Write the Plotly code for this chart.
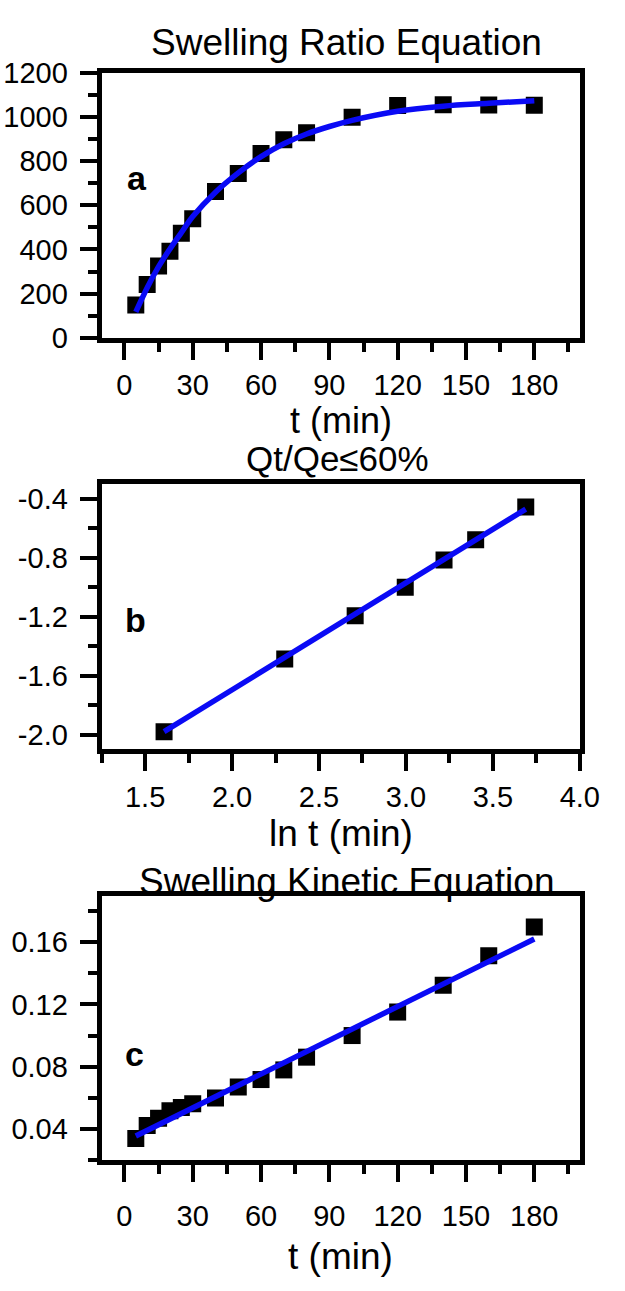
import plotly.graph_objects as go

# ---------------- data ----------------
# Panel a: swelling ratio vs time
t_a = [5, 10, 15, 20, 25, 30, 40, 50, 60, 70, 80, 100, 120, 140, 160, 180]
Q_a = [149, 241, 325, 392, 473, 539, 662, 743, 834, 896, 928, 998, 1051, 1054, 1053, 1052]
# fitted curve
t_fit_a = [5, 10, 15, 20, 25, 30, 40, 50, 60, 70, 80, 90, 100, 120, 140, 160, 180]
Q_fit_a = [117, 227, 322, 402, 476, 549, 659, 746, 820, 878, 922, 956, 984, 1025, 1048, 1061, 1073]

# Panel b: ln(Qt/Qe) vs ln t
lnt_b = [1.609, 2.303, 2.708, 2.996, 3.219, 3.401, 3.689]
lnQ_b = [-1.98, -1.487, -1.193, -1.0, -0.815, -0.678, -0.455]
lnt_fit_b = [1.609, 3.689]
lnQ_fit_b = [-1.98, -0.47]

# Panel c: t/Qt vs t
t_c = [5, 10, 15, 20, 25, 30, 40, 50, 60, 70, 80, 100, 120, 140, 160, 180]
tQ_c = [0.0338, 0.0421, 0.0468, 0.0516, 0.0537, 0.0561, 0.0599, 0.0669, 0.0717,
        0.0779, 0.0861, 0.1000, 0.1151, 0.1323, 0.1513, 0.1699]
t_fit_c = [5, 180]
tQ_fit_c = [0.0354, 0.1621]

# tick labels
xt_time = [0, 30, 60, 90, 120, 150, 180]
xt_time_txt = ["0", "30", "60", "90", "120", "150", "180"]
yt_a = [0, 200, 400, 600, 800, 1000, 1200]
yt_a_txt = ["0", "200", "400", "600", "800", "1000", "1200"]
xt_b = [1.5, 2.0, 2.5, 3.0, 3.5, 4.0]
xt_b_txt = ["1.5", "2.0", "2.5", "3.0", "3.5", "4.0"]
yt_b = [-2.0, -1.6, -1.2, -0.8, -0.4]
yt_b_txt = ["-2.0", "-1.6", "-1.2", "-0.8", "-0.4"]
yt_c = [0.04, 0.08, 0.12, 0.16]
yt_c_txt = ["0.04", "0.08", "0.12", "0.16"]

# ---------------- layout helpers ----------------
W, H = 625, 1291
FONT = "Liberation Sans, Arial, sans-serif"
BLUE = "rgb(10,10,245)"


def px(x):
    return x / W


def py(y):
    return 1 - y / H


xdom = [px(105), px(599)]
ydom_a = [py(330), py(58)]
ydom_b = [py(752), py(480)]
ydom_c = [py(1173), py(902)]

axis_common = dict(
    showline=True, linewidth=5, linecolor="black", mirror=True,
    ticks="outside", ticklen=17, tickwidth=4, tickcolor="black",
    showgrid=False, zeroline=False,
    tickfont=dict(family=FONT, size=29, color="black"),
)


def minor(d, t0=0):
    return dict(ticks="outside", ticklen=9, tickwidth=4, tickcolor="black",
                dtick=d, tick0=t0, showgrid=False)


fig = go.Figure()

marker = dict(symbol="square", size=17, color="black")

fig.add_trace(go.Scatter(x=t_a, y=Q_a, mode="markers", marker=marker,
                         xaxis="x", yaxis="y", showlegend=False))
fig.add_trace(go.Scatter(x=t_fit_a, y=Q_fit_a, mode="lines",
                         line=dict(color=BLUE, width=5.5, shape="spline"),
                         xaxis="x", yaxis="y", showlegend=False))

fig.add_trace(go.Scatter(x=lnt_b, y=lnQ_b, mode="markers", marker=marker,
                         xaxis="x2", yaxis="y2", showlegend=False))
fig.add_trace(go.Scatter(x=lnt_fit_b, y=lnQ_fit_b, mode="lines",
                         line=dict(color=BLUE, width=5.5),
                         xaxis="x2", yaxis="y2", showlegend=False))

fig.add_trace(go.Scatter(x=t_c, y=tQ_c, mode="markers", marker=marker,
                         xaxis="x3", yaxis="y3", showlegend=False))
fig.add_trace(go.Scatter(x=t_fit_c, y=tQ_fit_c, mode="lines",
                         line=dict(color=BLUE, width=5.5),
                         xaxis="x3", yaxis="y3", showlegend=False))

fig.update_layout(
    width=W, height=H,
    margin=dict(l=0, r=0, t=0, b=0),
    paper_bgcolor="white", plot_bgcolor="white",
    showlegend=False,
    xaxis=dict(axis_common, domain=xdom, anchor="y", range=[-10, 200],
               tickvals=xt_time, ticktext=xt_time_txt, minor=minor(15),
               ticklabelstandoff=0),
    yaxis=dict(axis_common, domain=ydom_a, anchor="x", range=[0, 1200],
               tickvals=yt_a, ticktext=yt_a_txt, minor=minor(100),
               ticklabelstandoff=6),
    xaxis2=dict(axis_common, domain=xdom, anchor="y2", range=[1.25, 4.0],
                tickvals=xt_b, ticktext=xt_b_txt, minor=minor(0.25, 1.5),
                ticklabelstandoff=1),
    yaxis2=dict(axis_common, domain=ydom_b, anchor="x2", range=[-2.1, -0.3],
                tickvals=yt_b, ticktext=yt_b_txt, minor=minor(0.2, -0.4),
                ticklabelstandoff=6),
    xaxis3=dict(axis_common, domain=xdom, anchor="y3", range=[-10, 200],
                tickvals=xt_time, ticktext=xt_time_txt, minor=minor(15),
                ticklabelstandoff=9),
    yaxis3=dict(axis_common, domain=ydom_c, anchor="x3", range=[0.02, 0.19],
                tickvals=yt_c, ticktext=yt_c_txt, minor=minor(0.02, 0.02),
                ticklabelstandoff=6),
)

ann = []


def text(s, x, y, size, bold=False):
    ann.append(dict(text=("<b>%s</b>" % s) if bold else s,
                    x=px(x), y=py(y), xref="paper", yref="paper",
                    xanchor="center", yanchor="middle", showarrow=False,
                    font=dict(family=FONT, size=size, color="black")))


text("Swelling Ratio Equation", 358, 27, 37)
text("t (min)", 352, 415, 36)
text("Qt/Qe≤60%", 349, 454, 35)
text("ln t (min)", 352, 838, 37)
text("Swelling Kinetic Equation", 358, 887, 37)
text("t (min)", 352, 1272, 37)
text("a", 142, 166, 34, bold=True)
text("b", 140, 619, 34, bold=True)
text("c", 139, 1064, 34, bold=True)

fig.update_layout(annotations=ann)

fig.write_html("out.html")
